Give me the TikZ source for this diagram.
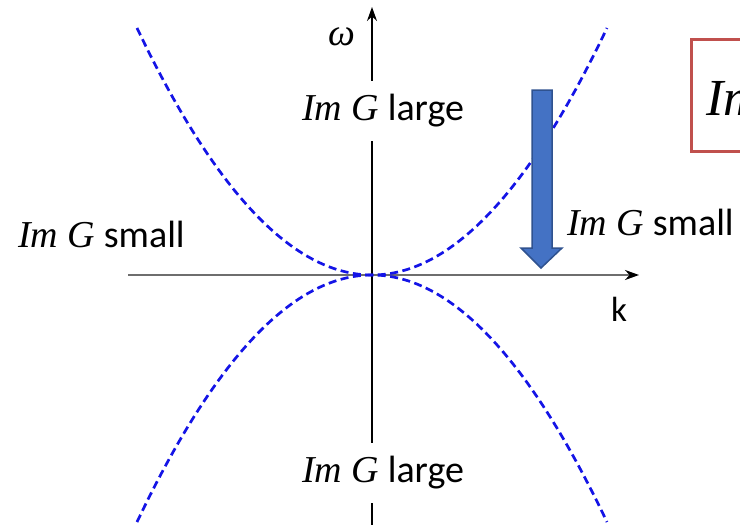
\documentclass[tikz,border=0pt]{standalone}
\usepackage{fontspec}
\setmainfont{Carlito}
\newfontfamily\imfont{Liberation Serif}
\usetikzlibrary{arrows.meta}
\definecolor{curveblue}{RGB}{20,20,230}
\definecolor{arrowfill}{RGB}{68,114,196}
\definecolor{arrowedge}{RGB}{47,82,143}
\definecolor{boxred}{RGB}{192,80,77}
\definecolor{axisgray}{RGB}{110,110,110}
\newcommand{\ImG}{{\imfont\itshape Im\kern0.25em G}}
\tikzset{
  lbl/.style={font=\fontsize{38}{42}\selectfont, inner sep=0pt, anchor=base west},
  gaplbl/.style={lbl, fill=white, text height=27pt, text depth=9pt, inner ysep=12pt, inner xsep=2pt},
  curve/.style={curveblue, line width=2.7pt, dash pattern=on 8pt off 4.5pt},
}
\begin{document}
\begin{tikzpicture}[x=1pt,y=-1pt]
\useasboundingbox (0,0) rectangle (740,525);
\clip (0,0) rectangle (740,525);
\coordinate (xL) at (128,275);
\coordinate (xR) at (639,275);
\coordinate (yB) at (372,525);
\coordinate (yT) at (372,7);
% axes
\draw[axisgray, line width=2.2pt, -{Stealth[length=14pt,width=10pt,color=black]}] (xL) -- (xR);
\draw[black, line width=1.4pt, -{Stealth[length=14pt,width=10pt]}] (yB) -- (yT);
% curves
\draw[curve] plot[domain=-235:235, samples=120] ({372+\x}, {275-44.73*(\x/100)*(\x/100)});
\draw[curve] plot[domain=-235:235, samples=120] ({372+\x}, {275+44.73*(\x/100)*(\x/100)});
% labels
\node[gaplbl] (top) at (300,120) {\ImG{} large};
\node[gaplbl] (bot) at (300,482) {\ImG{} large};
\node[lbl] (left) at (18,247) {\ImG{} small};
\node[lbl] (right) at (567,235) {\ImG{} small};
\node[font=\fontsize{38}{42}\selectfont\imfont\itshape, inner sep=0pt, anchor=base] (w) at (342,45) {ω};
\node[font=\fontsize{35}{40}\selectfont, inner sep=0pt, anchor=base] (k) at (619,321) {k};
% block arrow
\draw[fill=arrowfill, draw=arrowedge, line width=1.5pt, line join=miter]
  (532,90) -- (552,90) -- (552,248) -- (562,248) -- (541,268) -- (521,248) -- (532,248) -- cycle;
% red box
\draw[boxred, line width=3pt] (691,39) rectangle (820,151);
\node[font=\fontsize{52}{56}\selectfont\imfont\itshape, inner sep=0pt, anchor=base west] (boxtext) at (706,115) {Im};
\end{tikzpicture}
\end{document}
